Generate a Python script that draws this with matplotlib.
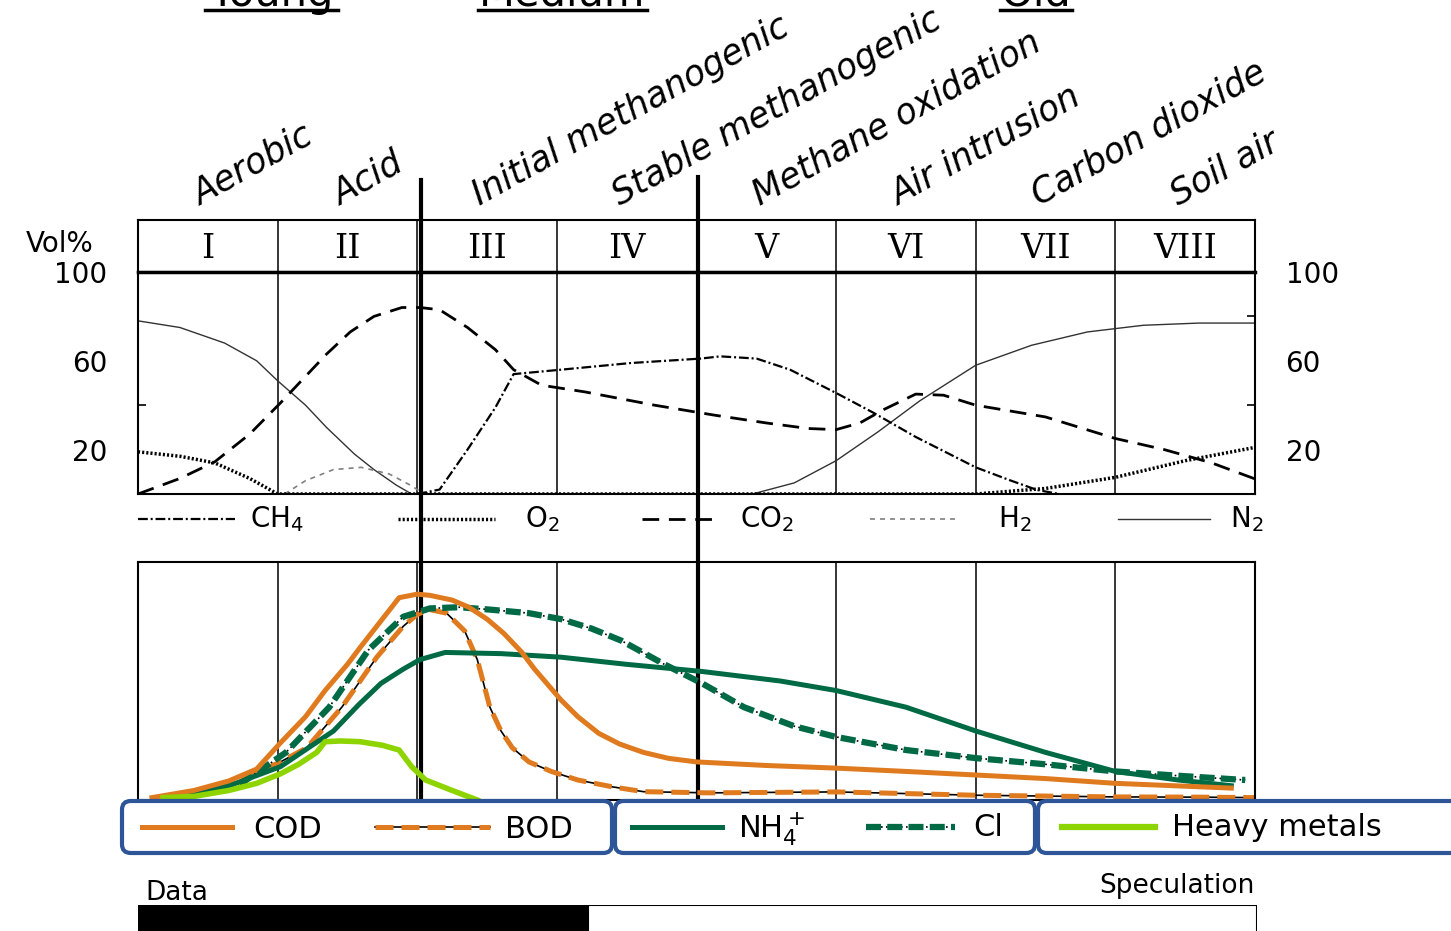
import matplotlib
matplotlib.use('Agg')
import matplotlib.pyplot as plt
from matplotlib.lines import Line2D
from matplotlib.patches import FancyBboxPatch

plt.rcParams['font.family'] = ['DejaVu Sans']

# Landfill gas composition (vol%) and leachate trends over the 8 phases

phases = ['I', 'II', 'III', 'IV', 'V', 'VI', 'VII', 'VIII']
phase_names = ['Aerobic', 'Acid', 'Initial methanogenic', 'Stable methanogenic',
               'Methane oxidation', 'Air intrusion', 'Carbon dioxide', 'Soil air']
ages = ['Young', 'Medium', 'Old']

# gas curves (x in phase units, y in vol%)
n2_x = [0, 0.3, 0.62, 0.85, 1.0, 1.2, 1.35, 1.55, 1.69, 1.85, 1.96, 4.4, 4.7, 5.0, 5.3, 5.6, 6.0, 6.4, 6.8, 7.2, 7.6, 8.0]
n2_y = [78, 75, 68, 60, 51, 40, 30, 18, 11, 4, 0, 0, 5, 15, 28, 42, 58, 67, 73, 76, 77, 77]
o2_x = [0, 0.3, 0.55, 0.8, 1.0, 6.0, 6.5, 7.0, 7.5, 8.0]
o2_y = [19, 17, 14, 7, 0, 0, 2.5, 7.5, 15, 21]
h2_x = [1.05, 1.2, 1.4, 1.6, 1.8, 1.95, 2.05]
h2_y = [0, 6, 11, 12, 9, 4, 0]
co2_x = [0, 0.3, 0.55, 0.8, 1.02, 1.2, 1.35, 1.52, 1.69, 1.89, 2.02, 2.16, 2.36, 2.56, 2.69, 2.89, 3.2, 3.7,
         4.13, 4.5, 4.8, 5.0, 5.17, 5.34, 5.57, 5.77, 6.0, 6.5, 7.0, 7.35, 7.69, 8.0]
co2_y = [0, 7, 14.5, 27, 41, 53, 63, 73, 80, 84, 84, 83, 75, 65, 56, 49, 46, 40,
         35.5, 32, 29.5, 29, 32, 38, 45, 44.5, 40, 34.7, 25, 20, 14, 6.8]
ch4_x = [2.0, 2.16, 2.36, 2.56, 2.69, 3.03, 3.53, 4.03, 4.17, 4.43, 4.67, 5.0, 5.27, 5.57, 6.0, 6.24, 6.44, 6.6]
ch4_y = [0, 2, 20, 39, 54, 56, 59, 61, 62, 61, 56, 45.5, 36.5, 25.7, 12, 6.3, 1.8, 0]

# leachate curves (relative concentration, 0-100)
cod_x = [0.1, 0.4, 0.65, 0.85, 1.02, 1.2, 1.34, 1.5, 1.59, 1.75, 1.87, 2.0, 2.09, 2.25, 2.37, 2.5,
         2.62, 2.75, 2.84, 3.03, 3.15, 3.3, 3.45, 3.62, 3.8, 4.0, 4.5, 5.0, 5.5, 6.0, 6.5, 7.0, 7.5, 7.83]
cod_y = [1, 4, 8, 13, 24, 35, 46, 57, 64, 76, 85, 86.5, 86, 84, 81, 76,
         70, 62, 55, 42, 35, 28, 23.5, 20, 17.5, 16, 14.5, 13.4, 12, 10.5, 9, 7, 5.8, 5]
bod_x = [0.2, 0.65, 1.02, 1.21, 1.46, 1.71, 1.9, 2.0, 2.09, 2.21, 2.34, 2.43, 2.52, 2.6, 2.68,
         2.8, 2.96, 3.15, 3.4, 3.62, 4.09, 5.0, 6.0, 7.0, 7.6, 8.0]
bod_y = [1, 6, 16, 22, 39, 60, 73, 78, 80, 78.5, 71, 59, 39, 29, 22,
         16, 12, 8.4, 5.5, 3.5, 3, 3.4, 2, 1.3, 1.2, 1.0]
cl_x = [0.43, 0.74, 1.06, 1.37, 1.65, 1.9, 2.09, 2.3, 2.52, 2.8, 3.03, 3.25, 3.46, 3.77, 4.04,
        4.34, 4.7, 5.0, 5.5, 6.0, 6.5, 7.0, 7.5, 7.93]
cl_y = [3.4, 7, 20, 39, 63, 77, 80.5, 81, 80, 78.5, 76, 72, 67, 57, 49,
        39, 31, 26.5, 21, 17.6, 15, 12, 10, 8.4]
nh4_x = [0.34, 0.7, 1.02, 1.4, 1.58, 1.74, 1.9, 2.02, 2.2, 2.6, 3.03, 3.5, 4.04, 4.6, 5.0, 5.5, 6.0,
         6.5, 7.0, 7.45, 7.83]
nh4_y = [2, 7, 14, 29, 40, 49, 55, 59, 62, 61.5, 60, 57, 54, 50, 46, 39, 29, 20, 12, 8.4, 6]
hm_x = [0.18, 0.4, 0.65, 0.85, 1.02, 1.15, 1.28, 1.34, 1.45, 1.59, 1.75, 1.87, 1.96, 2.06, 2.25, 2.43]
hm_y = [1, 1.5, 4, 7, 11, 15, 20, 24.5, 24.8, 24.5, 23, 21, 14, 8.4, 4, 0]

boundaries = [2.03, 4.01]   # young / medium / old split
data_end = 3.22             # measured data vs speculation

ORANGE = '#DF7A1E'
GREEN = '#006A45'
LIME = '#8ED400'
BLUE = '#2D5597'

W, H = 1451, 931
fig = plt.figure(figsize=(W / 100, H / 100), dpi=100)


def fbox(x0, y0, x1, y1):
    return [x0 / W, 1 - y1 / H, (x1 - x0) / W, (y1 - y0) / H]


def fline(x0, x1, y, **kw):
    fig.add_artist(Line2D([x0 / W, x1 / W], [1 - y / H] * 2, transform=fig.transFigure, **kw))


# header with roman numerals
ax_head = fig.add_axes(fbox(138, 220, 1255, 272))
ax_head.set_xlim(0, 8)
ax_head.set_ylim(0, 1)
ax_head.set_xticks([])
ax_head.set_yticks([])
ax_head.patch.set_alpha(0)
for s in ax_head.spines.values():
    s.set_linewidth(1.5)
ax_head.spines['bottom'].set_linewidth(2.5)
for i, p in enumerate(phases):
    ax_head.text(i + 0.5, 0.45, p, ha='center', va='center', fontsize=24, family='DejaVu Serif')
    if i > 0:
        ax_head.axvline(i, color='black', lw=1.1)
    ax_head.text(i + 0.45, 1.28, phase_names[i], transform=ax_head.get_xaxis_transform(),
                 rotation=29, rotation_mode='anchor', ha='left', va='baseline',
                 style='italic', fontsize=25)

# gas panel
ax = fig.add_axes(fbox(138, 272, 1255, 494))
ax.set_xlim(0, 8)
ax.set_ylim(0, 100)
ax.patch.set_alpha(0)
for s in ax.spines.values():
    s.set_linewidth(1.5)
for i in range(1, 8):
    ax.axvline(i, color='black', lw=1.1)
ax.set_xticks([])
ax.set_yticks([20, 60, 100])
ax.set_yticks([40, 60], minor=True)
ax.tick_params(axis='y', which='major', length=0, pad=22, labelsize=20)
ax.tick_params(axis='y', which='minor', direction='in', length=6, width=1.2)
ax2 = ax.twinx()
ax2.set_ylim(0, 100)
ax2.set_yticks([20, 60, 100])
ax2.set_yticks([20, 40, 60, 80], minor=True)
ax2.tick_params(axis='y', which='major', length=0, pad=22, labelsize=20)
ax2.tick_params(axis='y', which='minor', direction='in', length=6, width=1.2)
for s in ax2.spines.values():
    s.set_visible(False)

ch4_style = dict(color='black', lw=1.6, dashes=(4.4, 1.3, 0.9, 1.3))
o2_style = dict(color='black', lw=2.5, dashes=(0.6, 0.6))
co2_style = dict(color='black', lw=2.0, dashes=(6, 3.5))
h2_style = dict(color='#808080', lw=1.2, dashes=(3, 3))
n2_style = dict(color='#333333', lw=1.0)

ax.plot(n2_x, n2_y, **n2_style)
ax.plot(h2_x, h2_y, **h2_style)
ax.plot(o2_x, o2_y, **o2_style)
ax.plot(co2_x, co2_y, **co2_style)
ax.plot(ch4_x, ch4_y, **ch4_style)

fig.text(60 / W, 1 - 244 / H, 'Vol%', ha='center', va='center', fontsize=20)

# the two thick black split lines
ax.axvline(boundaries[0], ymin=-1.40, ymax=1.414, color='black', lw=3, clip_on=False, zorder=10)
ax.axvline(boundaries[1], ymin=-1.38, ymax=1.428, color='black', lw=3, clip_on=False, zorder=10)

# gas legend row
gas_leg = [(138, 235, 250, 'CH$_4$', ch4_style), (398, 495, 525, 'O$_2$', o2_style),
           (642, 718, 740, 'CO$_2$', co2_style), (870, 960, 998, 'H$_2$', h2_style),
           (1118, 1210, 1230, 'N$_2$', n2_style)]
for x0, x1, tx, lab, st in gas_leg:
    fline(x0, x1, 519, **st)
    fig.text(tx / W, 1 - 519 / H, lab, ha='left', va='center', fontsize=20)

# leachate panel
axl = fig.add_axes(fbox(138, 562, 1255, 800))
axl.set_xlim(0, 8)
axl.set_ylim(0, 100)
axl.patch.set_alpha(0)
axl.set_xticks([])
axl.set_yticks([])
for s in axl.spines.values():
    s.set_linewidth(1.5)
for i in range(1, 8):
    axl.axvline(i, color='black', lw=1.1)

axl.plot(bod_x, bod_y, color='black', lw=1.2)
axl.plot(bod_x, bod_y, color=ORANGE, lw=3.6, dashes=(3.6, 1.6))
axl.plot(cl_x, cl_y, color='black', lw=1.2, dashes=(1, 2))
axl.plot(cl_x, cl_y, color=GREEN, lw=4.5, dashes=(2.4, 1.0))
axl.plot(nh4_x, nh4_y, color=GREEN, lw=3.6)
axl.plot(cod_x, cod_y, color=ORANGE, lw=3.6)
axl.plot(hm_x, hm_y, color=LIME, lw=4, clip_on=False)

# leachate legend boxes
for x0, x1 in [(122, 612), (615, 1035), (1038, 1470)]:
    fig.add_artist(FancyBboxPatch((x0 / W, 1 - 853 / H), (x1 - x0) / W, 52 / H,
                                  boxstyle='round,pad=0,rounding_size=0.006',
                                  mutation_aspect=W / H, transform=fig.transFigure,
                                  facecolor='white', edgecolor=BLUE, lw=3, zorder=1))
fline(142, 232, 827, color=ORANGE, lw=3.6)
fig.text(253 / W, 1 - 829 / H, 'COD', ha='left', va='center', fontsize=22)
fline(375, 490, 827, color='black', lw=1.2)
fline(375, 490, 827, color=ORANGE, lw=3.6, dashes=(3.6, 1.6))
fig.text(505 / W, 1 - 829 / H, 'BOD', ha='left', va='center', fontsize=22)
fline(632, 722, 827, color=GREEN, lw=3.6)
fig.text(738 / W, 1 - 829 / H, 'NH$_4^+$', ha='left', va='center', fontsize=22)
fline(866, 955, 827, color='black', lw=1.2, dashes=(1, 2))
fline(866, 955, 827, color=GREEN, lw=4.5, dashes=(2.4, 1.0))
fig.text(973 / W, 1 - 827 / H, 'Cl', ha='left', va='center', fontsize=22)
fline(1062, 1155, 827, color=LIME, lw=4.5)
fig.text(1172 / W, 1 - 827 / H, 'Heavy metals', ha='left', va='center', fontsize=22)

# data / speculation bar
axb = fig.add_axes(fbox(138, 905, 1257, 931))
axb.set_xlim(0, 8)
axb.set_ylim(0, 1)
axb.barh([-0.5], [data_end], height=1.5, color='black', align='edge', left=0)
axb.barh([-0.5], [8 - data_end], height=1.5, left=data_end, align='edge',
         facecolor='white', edgecolor='black', lw=1.5)
axb.axis('off')
fig.text(145 / W, 1 - 900 / H, 'Data', ha='left', va='baseline', fontsize=19)
fig.text(1255 / W, 1 - 893 / H, 'Speculation', ha='right', va='baseline', fontsize=19)

# age labels at the very top (partly cut off, as in the source figure)
for lab, x0, x1 in zip(ages, [205, 478, 1000], [338, 647, 1072]):
    fig.text((x0 + x1) / 2 / W, 1 - 6 / H, lab, ha='center', va='baseline', fontsize=30)
    fline(x0, x1, 10, color='black', lw=2.5)

fig.savefig('out.png', dpi=100)
